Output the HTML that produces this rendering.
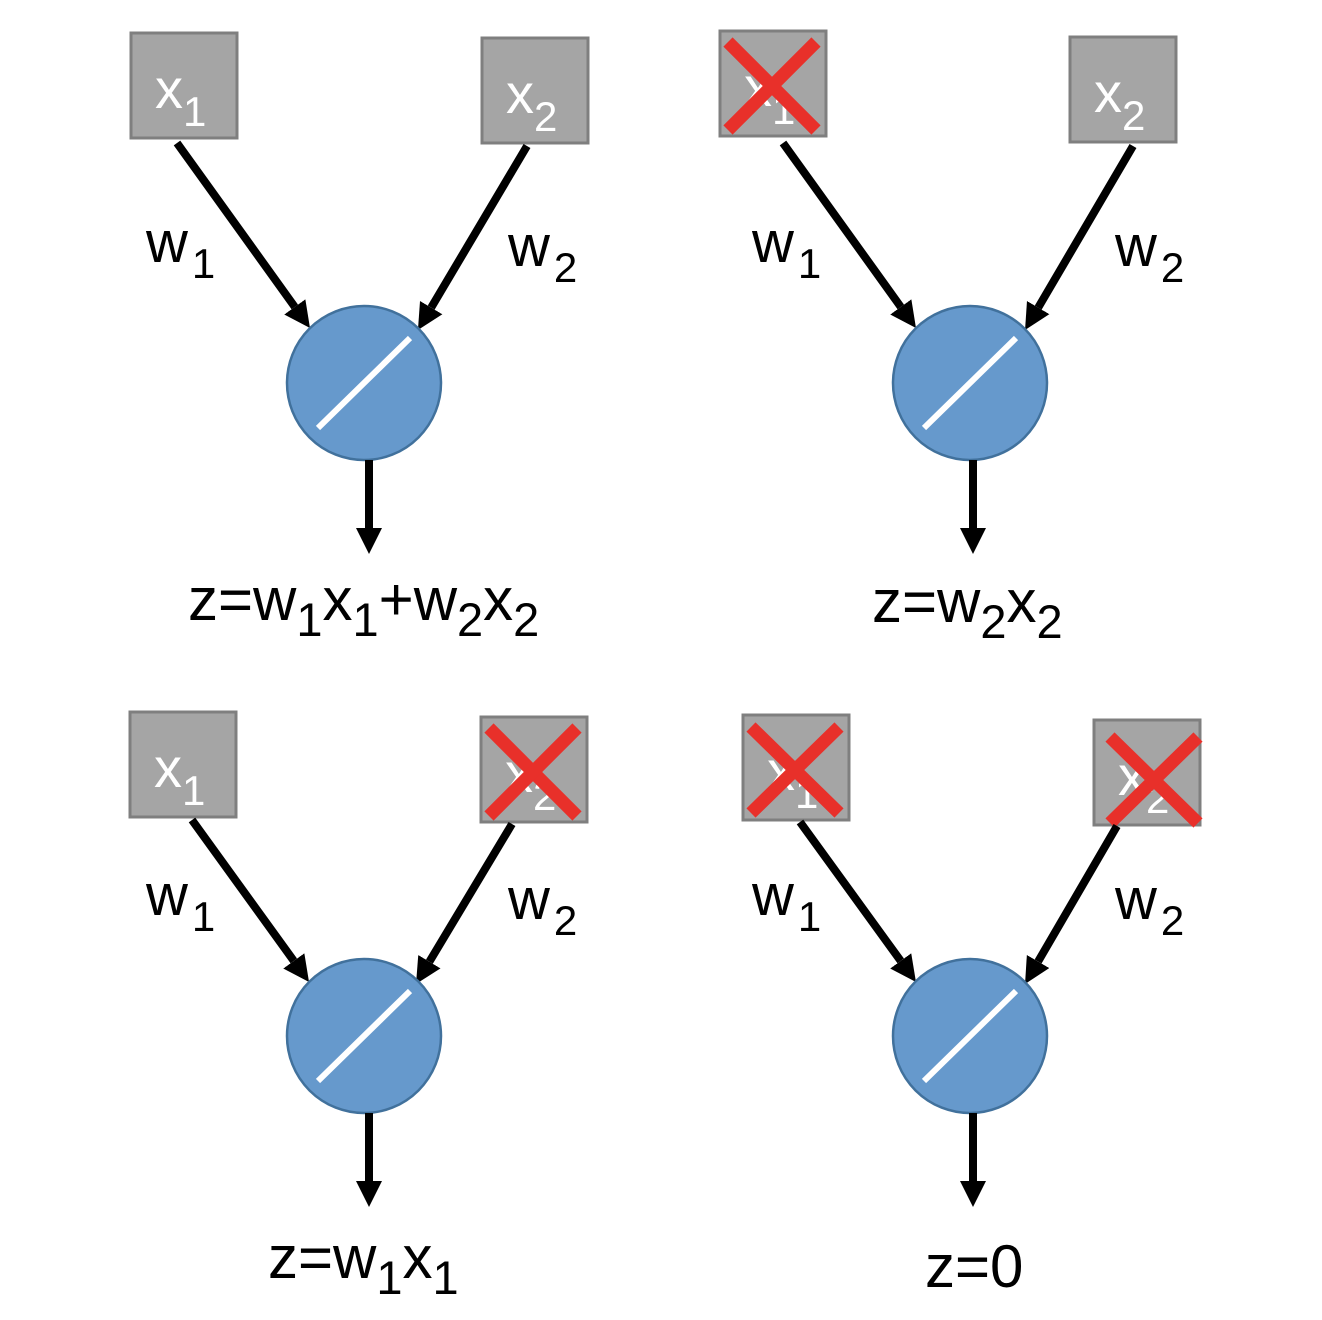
<!DOCTYPE html>
<html><head><meta charset="utf-8"><style>
html,body{margin:0;padding:0;background:#fff;}
svg{display:block;}
text{font-family:"Liberation Sans",sans-serif;}
</style></head><body>
<svg width="1322" height="1320" viewBox="0 0 1322 1320" xmlns="http://www.w3.org/2000/svg">
<defs>
<marker id="ah" markerWidth="28" markerHeight="28" refX="0" refY="13" orient="auto" markerUnits="userSpaceOnUse">
<path d="M0,0 L26,13 L0,26 Z" fill="#000"/>
</marker>
</defs>
<style>
.box{fill:#a5a5a5;stroke:#7f7f7f;stroke-width:3;}
.arr{stroke:#000;stroke-width:8;fill:none;marker-end:url(#ah);}
.circ{fill:#6699cc;stroke:#41719c;stroke-width:2.5;}
.slash{stroke:#fff;stroke-width:6;}
.cross{stroke:#e8302a;stroke-width:13;}
.bl{fill:#fff;font-size:56px;}
.wl{fill:#000;font-size:58px;}
.fl{fill:#000;font-size:60px;}
</style>

<!-- Panel 1 -->
<g>
<rect class="box" x="131" y="33" width="106" height="105"/>
<text class="bl" x="155" y="108">x<tspan font-size="42" dy="18">1</tspan></text>
<rect class="box" x="482" y="38" width="106" height="105"/>
<text class="bl" x="506" y="113">x<tspan font-size="42" dy="18">2</tspan></text>
<line class="arr" x1="177" y1="143" x2="294.8" y2="306.9"/>
<line class="arr" x1="527" y1="146" x2="431.2" y2="307.6"/>
<text class="wl" x="146" y="262">w<tspan font-size="42" dy="16" dx="4">1</tspan></text>
<text class="wl" x="508" y="266">w<tspan font-size="42" dy="16" dx="4">2</tspan></text>
<circle class="circ" cx="364" cy="383" r="77"/>
<line class="slash" x1="318" y1="428" x2="410" y2="338"/>
<line class="arr" x1="369" y1="460" x2="369" y2="528"/>
<text class="fl" x="188" y="620">z=w<tspan font-size="47" dy="16">1</tspan><tspan dy="-16">x</tspan><tspan font-size="47" dy="16">1</tspan><tspan dy="-16">+w</tspan><tspan font-size="47" dy="16">2</tspan><tspan dy="-16">x</tspan><tspan font-size="47" dy="16">2</tspan></text>
</g>

<!-- Panel 2 -->
<g>
<rect class="box" x="720" y="31" width="106" height="105"/>
<text class="bl" x="744" y="106">x<tspan font-size="42" dy="18">1</tspan></text>
<line class="cross" x1="728" y1="42" x2="816" y2="130"/>
<line class="cross" x1="816" y1="42" x2="728" y2="130"/>
<rect class="box" x="1070" y="37" width="106" height="105"/>
<text class="bl" x="1094" y="112">x<tspan font-size="42" dy="18">2</tspan></text>
<line class="arr" x1="783" y1="143" x2="900.8" y2="306.9"/>
<line class="arr" x1="1133" y1="146" x2="1038.2" y2="307.6"/>
<text class="wl" x="752" y="262">w<tspan font-size="42" dy="16" dx="4">1</tspan></text>
<text class="wl" x="1115" y="266">w<tspan font-size="42" dy="16" dx="4">2</tspan></text>
<circle class="circ" cx="970" cy="383" r="77"/>
<line class="slash" x1="924" y1="428" x2="1016" y2="338"/>
<line class="arr" x1="973" y1="460" x2="973" y2="528"/>
<text class="fl" x="872" y="622">z=w<tspan font-size="47" dy="16">2</tspan><tspan dy="-16">x</tspan><tspan font-size="47" dy="16">2</tspan></text>
</g>

<!-- Panel 3 -->
<g>
<rect class="box" x="130" y="712" width="106" height="105"/>
<text class="bl" x="154" y="787">x<tspan font-size="42" dy="18">1</tspan></text>
<rect class="box" x="481" y="717" width="106" height="105"/>
<text class="bl" x="505" y="792">x<tspan font-size="42" dy="18">2</tspan></text>
<line class="cross" x1="489" y1="728" x2="577" y2="816"/>
<line class="cross" x1="577" y1="728" x2="489" y2="816"/>
<line class="arr" x1="192" y1="820" x2="293.8" y2="960.9"/>
<line class="arr" x1="512" y1="824" x2="429.4" y2="961.7"/>
<text class="wl" x="146" y="915">w<tspan font-size="42" dy="16" dx="4">1</tspan></text>
<text class="wl" x="508" y="919">w<tspan font-size="42" dy="16" dx="4">2</tspan></text>
<circle class="circ" cx="364" cy="1036" r="77"/>
<line class="slash" x1="318" y1="1081" x2="410" y2="991"/>
<line class="arr" x1="369" y1="1113" x2="369" y2="1181"/>
<text class="fl" x="268" y="1278">z=w<tspan font-size="47" dy="16">1</tspan><tspan dy="-16">x</tspan><tspan font-size="47" dy="16">1</tspan></text>
</g>

<!-- Panel 4 -->
<g>
<rect class="box" x="743" y="715" width="106" height="105"/>
<text class="bl" x="767" y="790">x<tspan font-size="42" dy="18">1</tspan></text>
<line class="cross" x1="751" y1="727" x2="839" y2="813"/>
<line class="cross" x1="839" y1="727" x2="751" y2="813"/>
<rect class="box" x="1094" y="720" width="106" height="105"/>
<text class="bl" x="1118" y="795">x<tspan font-size="42" dy="18">2</tspan></text>
<line class="cross" x1="1110" y1="737" x2="1198" y2="823"/>
<line class="cross" x1="1198" y1="737" x2="1110" y2="823"/>
<line class="arr" x1="800" y1="822" x2="900.7" y2="960.9"/>
<line class="arr" x1="1117" y1="826" x2="1038.1" y2="961.5"/>
<text class="wl" x="752" y="915">w<tspan font-size="42" dy="16" dx="4">1</tspan></text>
<text class="wl" x="1115" y="919">w<tspan font-size="42" dy="16" dx="4">2</tspan></text>
<circle class="circ" cx="970" cy="1036" r="77"/>
<line class="slash" x1="924" y1="1081" x2="1016" y2="991"/>
<line class="arr" x1="973" y1="1113" x2="973" y2="1181"/>
<text class="fl" x="925" y="1287">z=0</text>
</g>
</svg>
</body></html>
